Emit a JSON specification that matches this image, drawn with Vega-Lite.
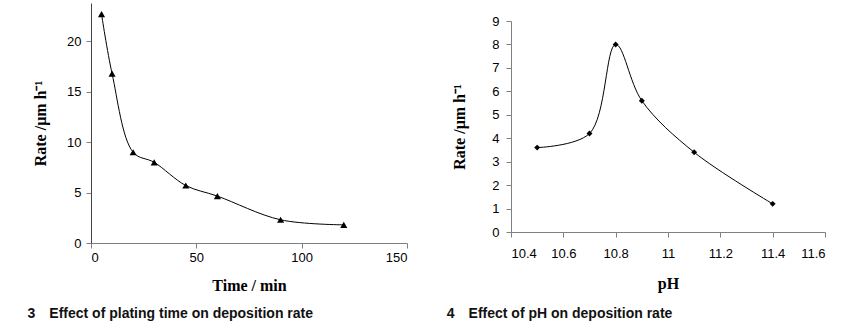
{
  "$schema": "https://vega.github.io/schema/vega-lite/v6.json",
  "padding": {"left": 27, "top": 3, "right": 5, "bottom": 5},
  "background": "#ffffff",
  "config": {
    "view": {"stroke": null},
    "axis": {
      "domainColor": "#808080",
      "tickColor": "#808080",
      "tickSize": 5,
      "grid": false,
      "labelFont": "Liberation Sans",
      "labelFontSize": 13,
      "labelColor": "#000000",
      "titleFont": "Liberation Serif",
      "titleFontSize": 16,
      "titleFontWeight": "bold",
      "titleColor": "#000000"
    },
    "title": {
      "font": "Liberation Sans",
      "fontSize": 14,
      "fontWeight": "bold",
      "color": "#111111",
      "anchor": "start",
      "orient": "bottom"
    }
  },
  "datasets": {
    "time": [
      {"time": 5, "rate": 22.7},
      {"time": 10, "rate": 16.8},
      {"time": 20, "rate": 9.0},
      {"time": 30, "rate": 8.0},
      {"time": 45, "rate": 5.7},
      {"time": 60, "rate": 4.65},
      {"time": 90, "rate": 2.3},
      {"time": 120, "rate": 1.8}
    ],
    "ph": [
      {"ph": 10.5, "rate": 3.6},
      {"ph": 10.7, "rate": 4.2},
      {"ph": 10.8, "rate": 8.0},
      {"ph": 10.9, "rate": 5.6},
      {"ph": 11.1, "rate": 3.4},
      {"ph": 11.4, "rate": 1.2}
    ]
  },
  "hconcat": [
    {
      "width": 316,
      "height": 240,
      "title": {"text": "3\u2003Effect of plating time on deposition rate", "offset": 14, "dx": -5},
      "data": {"name": "time"},
      "encoding": {
        "x": {
          "field": "time", "type": "quantitative",
          "scale": {"domain": [0, 150], "nice": false},
          "axis": {"values": [0, 50, 100, 150], "title": "Time / min", "labelPadding": 3, "titlePadding": 13}
        },
        "y": {
          "field": "rate", "type": "quantitative",
          "scale": {"domain": [0, 23.8], "nice": false},
          "axis": {"values": [0, 5, 10, 15, 20], "title": "Rate /μm h\u207B\u00B9", "labelPadding": 5, "titlePadding": 18, "domainColor": "#444444"}
        }
      },
      "layer": [
        {"mark": {"type": "line", "interpolate": "catmull-rom", "color": "#000000", "strokeWidth": 1}},
        {"mark": {"type": "point", "shape": "triangle-up", "filled": true, "color": "#000000", "size": 50, "opacity": 1}}
      ]
    },
    {
      "bounds": "flush",
      "spacing": 0,
      "vconcat": [
        {
          "width": 314,
          "height": 18,
          "data": {"values": []},
          "mark": "point"
        },
        {
          "width": 314,
          "height": 211,
          "title": {"text": "4\u2003Effect of pH on deposition rate", "offset": 16, "dx": -5},
          "data": {"name": "ph"},
          "encoding": {
            "x": {
              "field": "ph", "type": "quantitative",
              "scale": {"domain": [10.4, 11.6], "nice": false, "zero": false},
              "axis": {"values": [10.4, 10.6, 10.8, 11.0, 11.2, 11.4, 11.6], "format": ".1~f", "title": "pH", "labelPadding": 10, "titlePadding": 15}
            },
            "y": {
              "field": "rate", "type": "quantitative",
              "scale": {"domain": [0, 9], "nice": false},
              "axis": {"values": [0, 1, 2, 3, 4, 5, 6, 7, 8, 9], "title": "Rate /μm h\u207B\u00B9", "labelPadding": 7, "titlePadding": 24}
            }
          },
          "layer": [
            {"mark": {"type": "line", "interpolate": "catmull-rom", "color": "#000000", "strokeWidth": 1}},
            {"mark": {"type": "point", "shape": "diamond", "filled": true, "color": "#000000", "size": 35, "opacity": 1}}
          ]
        }
      ]
    }
  ],
  "bounds": "flush",
  "spacing": 104
}
